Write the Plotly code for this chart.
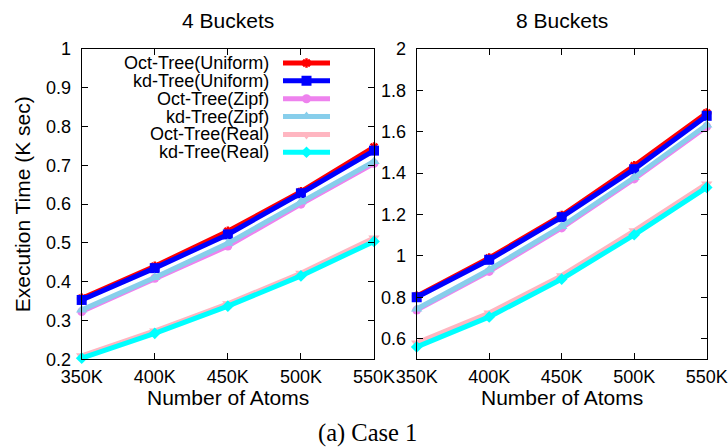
import plotly.graph_objects as go

W, H = 728, 447

atoms = [350, 400, 450, 500, 550]
atom_labels = ["350K", "400K", "450K", "500K", "550K"]

series_names = ["Oct-Tree(Uniform)", "kd-Tree(Uniform)", "Oct-Tree(Zipf)",
                "kd-Tree(Zipf)", "Oct-Tree(Real)", "kd-Tree(Real)"]

# 4 Buckets (K sec)
b4_oct_uniform = [0.357, 0.440, 0.530, 0.632, 0.747]
b4_kd_uniform = [0.353, 0.435, 0.522, 0.628, 0.738]
b4_oct_zipf = [0.323, 0.409, 0.492, 0.600, 0.705]
b4_kd_zipf = [0.327, 0.411, 0.499, 0.606, 0.710]
b4_oct_real = [0.209, 0.273, 0.343, 0.422, 0.513]
b4_kd_real = [0.203, 0.267, 0.337, 0.415, 0.504]

# 8 Buckets (K sec)
b8_oct_uniform = [0.805, 0.990, 1.195, 1.435, 1.690]
b8_kd_uniform = [0.800, 0.981, 1.187, 1.419, 1.677]
b8_oct_zipf = [0.738, 0.925, 1.135, 1.372, 1.625]
b8_kd_zipf = [0.743, 0.933, 1.142, 1.379, 1.633]
b8_oct_real = [0.579, 0.724, 0.904, 1.121, 1.348]
b8_kd_real = [0.560, 0.705, 0.888, 1.102, 1.331]

y4_ticks = [0.2, 0.3, 0.4, 0.5, 0.6, 0.7, 0.8, 0.9, 1.0]
y4_labels = ["0.2", "0.3", "0.4", "0.5", "0.6", "0.7", "0.8", "0.9", "1"]
y8_ticks = [0.6, 0.8, 1.0, 1.2, 1.4, 1.6, 1.8, 2.0]
y8_labels = ["0.6", "0.8", "1", "1.2", "1.4", "1.6", "1.8", "2"]

colors = ["#ff0000", "#0000ff", "#ee82ee", "#87ceeb", "#ffb6c1", "#00ffff"]
symbols = ["asterisk-open", "square", "circle", "triangle-up", "triangle-down", "diamond"]
msizes = [8, 10, 9, 10, 10, 9]

data4 = [b4_oct_uniform, b4_kd_uniform, b4_oct_zipf, b4_kd_zipf, b4_oct_real, b4_kd_real]
data8 = [b8_oct_uniform, b8_kd_uniform, b8_oct_zipf, b8_kd_zipf, b8_oct_real, b8_kd_real]

FONT = "Liberation Sans"

fig = go.Figure()

def marker(i, size=None):
    m = dict(symbol=symbols[i], color=colors[i], size=size if size is not None else msizes[i])
    if symbols[i].endswith("open"):
        m["line"] = dict(color=colors[i], width=2.5)
    else:
        m["line"] = dict(width=0)
    return m

LW = 5
for i, name in enumerate(series_names):
    fig.add_trace(go.Scatter(x=atoms, y=data4[i], mode="lines+markers", name=name,
                             line=dict(color=colors[i], width=LW), marker=marker(i),
                             xaxis="x", yaxis="y", showlegend=False, cliponaxis=False))
for i, name in enumerate(series_names):
    fig.add_trace(go.Scatter(x=atoms, y=data8[i], mode="lines+markers", name=name,
                             line=dict(color=colors[i], width=LW), marker=marker(i),
                             xaxis="x2", yaxis="y2", showlegend=False, cliponaxis=False))

# pixel geometry
L1, R1 = 81.7, 374.0
L2, R2 = 416.7, 706.7
T, B = 49.0, 359.3

# manual gnuplot-style legend (text left, key on right) in an overlay pixel axis
leg_text_x = 270.7
leg_x0, leg_x1 = 283.0, 330.0
leg_y0, leg_dy = 63.0, 17.85
annotations = []
for i, name in enumerate(series_names):
    yy = leg_y0 + i * leg_dy
    fig.add_trace(go.Scatter(x=[leg_x0, leg_x1], y=[yy, yy],
                             mode="lines", line=dict(color=colors[i], width=LW),
                             xaxis="x3", yaxis="y3", showlegend=False, hoverinfo="skip"))
    fig.add_trace(go.Scatter(x=[(leg_x0 + leg_x1) / 2], y=[yy], mode="markers",
                             marker=marker(i), xaxis="x3", yaxis="y3",
                             showlegend=False, hoverinfo="skip"))
    annotations.append(dict(text=name, x=leg_text_x / W, y=1 - yy / H, xref="paper", yref="paper",
                            xanchor="right", yanchor="middle", showarrow=False,
                            font=dict(family=FONT, size=18, color="black")))

title_font = dict(family=FONT, size=21, color="black")
axt_font = dict(family=FONT, size=21, color="black")
annotations += [
    dict(text="4 Buckets", x=(L1 + R1) / 2 / W, y=1 - 20 / H, xref="paper", yref="paper",
         xanchor="center", yanchor="middle", showarrow=False, font=title_font),
    dict(text="8 Buckets", x=(L2 + R2) / 2 / W, y=1 - 20 / H, xref="paper", yref="paper",
         xanchor="center", yanchor="middle", showarrow=False, font=title_font),
    dict(text="Number of Atoms", x=(L1 + R1) / 2 / W, y=1 - 397 / H, xref="paper", yref="paper",
         xanchor="center", yanchor="middle", showarrow=False, font=axt_font),
    dict(text="Number of Atoms", x=(L2 + R2) / 2 / W, y=1 - 397 / H, xref="paper", yref="paper",
         xanchor="center", yanchor="middle", showarrow=False, font=axt_font),
    dict(text="Execution Time (K sec)", x=22 / W, y=1 - (T + B) / 2 / H, xref="paper", yref="paper",
         xanchor="center", yanchor="middle", textangle=-90, showarrow=False, font=axt_font),
    dict(text="(a) Case 1", x=367 / W, y=1 - 433 / H, xref="paper", yref="paper",
         xanchor="center", yanchor="middle", showarrow=False,
         font=dict(family="Liberation Serif", size=24.5, color="black")),
]

axis_common = dict(showline=True, linecolor="black", linewidth=1.3, mirror="ticks",
                   ticks="inside", ticklen=6, tickwidth=1, tickcolor="black",
                   showgrid=False, zeroline=False, automargin=False,
                   tickfont=dict(family=FONT, size=18, color="black"))

fig.update_layout(
    width=W, height=H, margin=dict(l=0, r=0, t=0, b=0, autoexpand=False),
    paper_bgcolor="white", plot_bgcolor="white",
    showlegend=False,
    xaxis=dict(domain=[L1 / W, R1 / W], range=[350, 550], tickvals=atoms, ticktext=atom_labels,
               anchor="y", ticklabelstandoff=1, **axis_common),
    yaxis=dict(domain=[1 - B / H, 1 - T / H], range=[0.2, 1.0], tickvals=y4_ticks, ticktext=y4_labels,
               anchor="x", ticklabelstandoff=6, **axis_common),
    xaxis2=dict(domain=[L2 / W, R2 / W], range=[350, 550], tickvals=atoms, ticktext=atom_labels,
                anchor="y2", ticklabelstandoff=1, **axis_common),
    yaxis2=dict(domain=[1 - B / H, 1 - T / H], range=[0.5, 2.0], tickvals=y8_ticks, ticktext=y8_labels,
                anchor="x2", ticklabelstandoff=6, **axis_common),
    xaxis3=dict(overlaying="x", range=[L1, R1], visible=False, anchor="y3", automargin=False),
    yaxis3=dict(overlaying="y", range=[B, T], visible=False, anchor="x3", automargin=False),
    annotations=annotations,
)

fig.write_html("out.html")
